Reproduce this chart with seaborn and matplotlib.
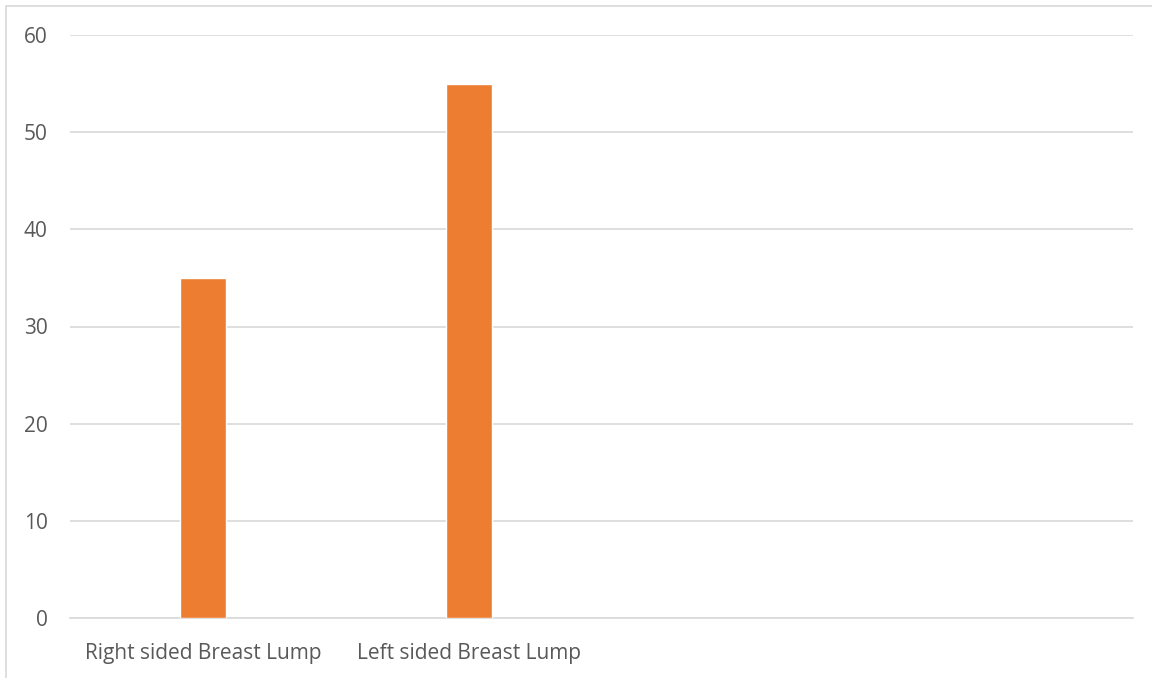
import matplotlib
matplotlib.use("Agg")
import matplotlib.pyplot as plt
from matplotlib.lines import Line2D
import seaborn as sns
import pandas as pd

categories = ["Right sided Breast Lump", "Left sided Breast Lump"]
values = [35, 55]
y_ticks = [0, 10, 20, 30, 40, 50, 60]
n_slots = 4  # category slots along the axis (two are left empty)

sns.set_theme(style="white")
plt.rcParams["font.family"] = ["Open Sans", "DejaVu Sans"]

df = pd.DataFrame({"side": categories, "count": values})

fig = plt.figure(figsize=(11.52, 6.78), dpi=100)
ax = fig.add_axes([70 / 1152, 1 - 618 / 678, (1133 - 70) / 1152, (618 - 35) / 678])

sns.barplot(data=df, x="side", y="count", color="#ED7D31", saturation=1,
            width=0.173, ax=ax, zorder=3)

ax.set_xlim(-0.5, n_slots - 0.5)
ax.set_ylim(0, 60)
ax.set_yticks(y_ticks)
ax.yaxis.grid(True, color="#d9d9d9", linewidth=1.2, zorder=0)
ax.xaxis.grid(False)
for s in ["left", "right", "top"]:
    ax.spines[s].set_visible(False)
ax.spines["bottom"].set_color("#d9d9d9")
ax.spines["bottom"].set_linewidth(1.2)
ax.set_xlabel("")
ax.set_ylabel("")
ax.tick_params(axis="y", length=0, pad=16, labelsize=15, labelcolor="#595959")
ax.tick_params(axis="x", length=0, pad=18, labelsize=15, labelcolor="#595959")

# chart-area border along the top and left edges
fig.add_artist(Line2D([6 / 1152, 6 / 1152], [0, 1 - 6 / 678], transform=fig.transFigure,
                      color="#d9d9d9", linewidth=1.2))
fig.add_artist(Line2D([6 / 1152, 1], [1 - 6 / 678, 1 - 6 / 678], transform=fig.transFigure,
                      color="#d9d9d9", linewidth=1.2))

fig.savefig("out.png", dpi=100, facecolor="white")
